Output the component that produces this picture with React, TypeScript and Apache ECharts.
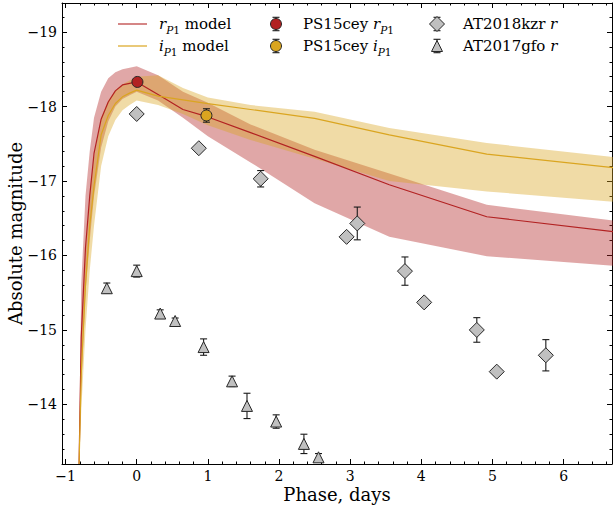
import React, { useEffect, useRef } from 'react';
import * as echarts from 'echarts';

// ---- axis ranges & ticks ----
const X_MIN = -1.05;
const X_MAX = 6.68;
const Y_MIN = -19.39;
const Y_MAX = -13.2;
const X_TICKS = [-1, 0, 1, 2, 3, 4, 5, 6];
const Y_TICKS = [-19, -18, -17, -16, -15, -14];

// ---- model curves (phase in days, absolute magnitude) ----
const modelPhase = [-0.81, -0.78, -0.72, -0.66, -0.6, -0.5, -0.4, -0.3, -0.2, -0.1, 0, 0.3, 0.65, 1.0, 1.6, 2.5, 3.55, 4.92, 6.7];
const rModel = [-13.2, -14.9, -16.1, -16.8, -17.37, -17.83, -18.06, -18.21, -18.29, -18.31, -18.33, -18.16, -17.96, -17.86, -17.65, -17.33, -16.95, -16.52, -16.32];
const rUpper = [-13.2, -15.6, -16.8, -17.4, -17.85, -18.2, -18.38, -18.46, -18.5, -18.52, -18.54, -18.42, -18.2, -18.05, -17.76, -17.42, -17.1, -16.68, -16.47];
const rLower = [-13.2, -14.2, -15.5, -16.2, -16.8, -17.45, -17.8, -18.0, -18.1, -18.15, -18.2, -18.08, -17.85, -17.6, -17.25, -16.7, -16.25, -15.99, -15.86];
const iModel = [-13.2, -14.4, -15.6, -16.4, -16.93, -17.62, -17.88, -18.04, -18.13, -18.18, -18.22, -18.14, -18.09, -18.04, -17.96, -17.84, -17.62, -17.36, -17.18];
const iUpper = [-13.2, -14.9, -16.0, -16.8, -17.3, -17.85, -18.08, -18.22, -18.3, -18.35, -18.4, -18.42, -18.25, -18.12, -18.02, -17.93, -17.71, -17.51, -17.32];
const iLower = [-13.2, -13.9, -15.0, -15.8, -16.4, -17.2, -17.6, -17.82, -17.95, -18.02, -18.08, -18.02, -17.9, -17.75, -17.55, -17.3, -17.0, -16.86, -16.72];

// ---- observations: [phase, mag, error] ----
const ps15ceyR = [[0.01, -18.33, 0.03]];
const ps15ceyI = [[0.98, -17.88, 0.09]];
const at2018kzr = [
  [0.0, -17.9, 0.03],
  [0.873, -17.44, 0.04],
  [1.742, -17.03, 0.11],
  [2.95, -16.25, 0.04],
  [3.1, -16.43, 0.22],
  [3.77, -15.79, 0.19],
  [4.04, -15.37, 0.04],
  [4.78, -15.0, 0.165],
  [5.06, -14.44, 0.04],
  [5.75, -14.66, 0.21],
];
const at2017gfo = [
  [-0.42, -15.56, 0.07],
  [0.0, -15.79, 0.08],
  [0.33, -15.22, 0.05],
  [0.54, -15.12, 0.04],
  [0.94, -14.77, 0.11],
  [1.34, -14.31, 0.07],
  [1.55, -13.98, 0.17],
  [1.96, -13.77, 0.09],
  [2.35, -13.47, 0.13],
  [2.555, -13.29, 0.05],
];

const FONT = "'DejaVu Serif', serif";
const RED = '#b22222';
const GOLD = '#daa520';
const RED_BAND = 'rgba(178,34,34,0.4)';
const GOLD_BAND = 'rgba(218,165,32,0.4)';
const GREY = '#c0c0c0';
const EDGE = '#262626';

function minorValues(lo: number, hi: number, step: number, majors: number[]) {
  const out: number[] = [];
  const start = Math.ceil(lo / step) * step;
  for (let v = start; v <= hi + 1e-9; v += step) {
    const r = Math.round(v * 10) / 10;
    if (!majors.some((m) => Math.abs(m - r) < 1e-6)) out.push(r);
  }
  return out;
}

const fmt = (v: number) => (v < 0 ? '\u2212' + Math.abs(v) : String(v));

function bandSeries(lower: number[], upper: number[], color: string, z: number) {
  return {
    type: 'custom',
    z,
    silent: true,
    data: [[modelPhase[0], lower[0]]],
    encode: { x: 0, y: 1 },
    renderItem: (params: any, api: any) => {
      const pts: number[][] = [];
      for (let i = 0; i < modelPhase.length; i++) pts.push(api.coord([modelPhase[i], upper[i]]));
      for (let i = modelPhase.length - 1; i >= 0; i--) pts.push(api.coord([modelPhase[i], lower[i]]));
      return { type: 'polygon', shape: { points: pts }, style: { fill: color } };
    },
  };
}

function lineSeries(values: number[], color: string, z: number) {
  return {
    type: 'line',
    z,
    silent: true,
    symbol: 'none',
    data: modelPhase.map((x, i) => [x, values[i]]),
    lineStyle: { color, width: 1.2 },
  };
}

function errorSeries(data: number[][], z: number) {
  return {
    type: 'custom',
    z,
    silent: true,
    data,
    encode: { x: 0, y: 1 },
    renderItem: (params: any, api: any) => {
      const x = api.value(0);
      const y = api.value(1);
      const e = api.value(2);
      const a = api.coord([x, y - e]);
      const b = api.coord([x, y + e]);
      const cw = 3.5;
      const st = { stroke: '#1a1a1a', lineWidth: 1.1 };
      return {
        type: 'group',
        children: [
          { type: 'line', shape: { x1: a[0], y1: a[1], x2: b[0], y2: b[1] }, style: st },
          { type: 'line', shape: { x1: a[0] - cw, y1: a[1], x2: a[0] + cw, y2: a[1] }, style: st },
          { type: 'line', shape: { x1: b[0] - cw, y1: b[1], x2: b[0] + cw, y2: b[1] }, style: st },
        ],
      };
    },
  };
}

function scatterSeries(data: number[][], symbol: string, size: number, color: string, z: number) {
  return {
    type: 'scatter',
    z,
    silent: true,
    symbol,
    symbolSize: size,
    data: data.map((d) => [d[0], d[1]]),
    itemStyle: { color, borderColor: EDGE, borderWidth: 1, opacity: 1 },
  };
}

const RICH = {
  n: { fontFamily: FONT, fontSize: 15, color: '#000', lineHeight: 22 },
  i: { fontFamily: FONT, fontSize: 15, fontStyle: 'italic', color: '#000', lineHeight: 22 },
  si: { fontFamily: FONT, fontSize: 10.5, fontStyle: 'italic', color: '#000', lineHeight: 14, verticalAlign: 'bottom' },
  s: { fontFamily: FONT, fontSize: 10.5, color: '#000', lineHeight: 14, verticalAlign: 'bottom' },
};

function legendText(x: number, y: number, text: string) {
  return {
    type: 'text',
    x,
    y,
    z: 100,
    style: { text, rich: RICH, verticalAlign: 'middle', align: 'left', fontFamily: FONT, fontSize: 15 },
  };
}

function legendBar(cx: number, cy: number) {
  const st = { stroke: '#1a1a1a', lineWidth: 1.1 };
  return [
    { type: 'line', z: 100, shape: { x1: cx, y1: cy - 6.7, x2: cx, y2: cy + 6.7 }, style: st },
    { type: 'line', z: 100, shape: { x1: cx - 3.5, y1: cy - 6.7, x2: cx + 3.5, y2: cy - 6.7 }, style: st },
    { type: 'line', z: 100, shape: { x1: cx - 3.5, y1: cy + 6.7, x2: cx + 3.5, y2: cy + 6.7 }, style: st },
  ];
}

function buildGraphics() {
  const r1 = 24;
  const r2 = 46;
  const els: any[] = [];
  els.push({ type: 'line', z: 100, shape: { x1: 118, y1: r1, x2: 147, y2: r1 }, style: { stroke: 'rgba(178,34,34,0.55)', lineWidth: 2 } });
  els.push({ type: 'line', z: 100, shape: { x1: 118, y1: r2, x2: 147, y2: r2 }, style: { stroke: 'rgba(218,165,32,0.6)', lineWidth: 2 } });
  els.push(legendText(159, r1, '{i|r}{si|P}{s|1}{n| model}'));
  els.push(legendText(159, r2, '{i|i}{si|P}{s|1}{n| model}'));
  els.push(...legendBar(276, r1));
  els.push({ type: 'circle', z: 101, shape: { cx: 276, cy: r1, r: 5.5 }, style: { fill: RED, stroke: EDGE, lineWidth: 1 } });
  els.push(...legendBar(276, r2));
  els.push({ type: 'circle', z: 101, shape: { cx: 276, cy: r2, r: 5.5 }, style: { fill: GOLD, stroke: EDGE, lineWidth: 1 } });
  els.push(legendText(303, r1, '{n|PS15cey }{i|r}{si|P}{s|1}'));
  els.push(legendText(303, r2, '{n|PS15cey }{i|i}{si|P}{s|1}'));
  els.push(...legendBar(437, r1));
  els.push({ type: 'polygon', z: 101, shape: { points: [[437, r1 - 7.5], [444.5, r1], [437, r1 + 7.5], [429.5, r1]] }, style: { fill: GREY, stroke: EDGE, lineWidth: 1 } });
  els.push(...legendBar(437, r2));
  els.push({ type: 'polygon', z: 101, shape: { points: [[437, r2 - 5.5], [442.5, r2 + 5.5], [431.5, r2 + 5.5]] }, style: { fill: GREY, stroke: EDGE, lineWidth: 1 } });
  els.push(legendText(463, r1, '{n|AT2018kzr }{i|r}'));
  els.push(legendText(463, r2, '{n|AT2017gfo }{i|r}'));
  return els;
}

export default function App() {
  const ref = useRef<HTMLDivElement>(null);
  useEffect(() => {
    if (!ref.current) return;
    const chart = echarts.init(ref.current, undefined, { renderer: 'svg' });
    const xMinor = minorValues(X_MIN, X_MAX, 0.2, X_TICKS);
    const yMinor = minorValues(Y_MIN, Y_MAX, 0.2, Y_TICKS);
    const tickStyle = { color: '#000', width: 1 };
    const mkX = (position: string, major: boolean, primary: boolean) => ({
      type: 'value',
      position,
      min: X_MIN,
      max: X_MAX,
      axisLine: { show: major, onZero: false, lineStyle: { color: '#000', width: 1 } },
      axisTick: { show: true, inside: true, length: major ? 5 : 2.5, customValues: major ? X_TICKS : xMinor, lineStyle: tickStyle },
      axisLabel: primary
        ? { show: true, customValues: X_TICKS, formatter: fmt, fontFamily: FONT, fontSize: 14, lineHeight: 15, color: '#000', margin: 4 }
        : { show: false },
      splitLine: { show: false },
      ...(primary
        ? { name: 'Phase, days', nameLocation: 'middle', nameGap: 21, nameMoveOverlap: false, nameTextStyle: { fontFamily: FONT, fontSize: 18, lineHeight: 19, color: '#000' } }
        : {}),
    });
    const mkY = (position: string, major: boolean, primary: boolean) => ({
      type: 'value',
      position,
      inverse: true,
      min: Y_MIN,
      max: Y_MAX,
      axisLine: { show: major, onZero: false, lineStyle: { color: '#000', width: 1 } },
      axisTick: { show: true, inside: true, length: major ? 5 : 2.5, customValues: major ? Y_TICKS : yMinor, lineStyle: tickStyle },
      axisLabel: primary
        ? { show: true, customValues: Y_TICKS, formatter: fmt, fontFamily: FONT, fontSize: 14, color: '#000', margin: 5 }
        : { show: false },
      splitLine: { show: false },
      ...(primary
        ? { name: 'Absolute magnitude', nameLocation: 'middle', nameRotate: 90, nameGap: 38, nameMoveOverlap: false, nameTextStyle: { fontFamily: FONT, fontSize: 18, color: '#000' } }
        : {}),
    });
    chart.setOption({
      animation: false,
      backgroundColor: '#fff',
      grid: { left: 62, top: 3, right: 1, bottom: 45, containLabel: false, outerBoundsMode: 'none' },
      xAxis: [mkX('bottom', true, true), mkX('bottom', false, false), mkX('top', true, false), mkX('top', false, false)],
      yAxis: [mkY('left', true, true), mkY('left', false, false), mkY('right', true, false), mkY('right', false, false)],
      series: [
        bandSeries(rLower, rUpper, RED_BAND, 1),
        bandSeries(iLower, iUpper, GOLD_BAND, 1),
        lineSeries(rModel, RED, 2),
        lineSeries(iModel, GOLD, 2),
        errorSeries(ps15ceyR, 3),
        errorSeries(ps15ceyI, 3),
        errorSeries(at2018kzr, 3),
        errorSeries(at2017gfo, 3),
        scatterSeries(ps15ceyR, 'circle', 11, RED, 4),
        scatterSeries(ps15ceyI, 'circle', 11, GOLD, 4),
        scatterSeries(at2018kzr, 'diamond', 15, GREY, 4),
        scatterSeries(at2017gfo, 'triangle', 11, GREY, 4),
      ],
      graphic: buildGraphics(),
    });
    return () => chart.dispose();
  }, []);
  return (
    <div
      ref={ref}
      style={{ position: 'fixed', left: 0, top: 0, width: 613, height: 509, background: '#fff' }}
    />
  );
}
